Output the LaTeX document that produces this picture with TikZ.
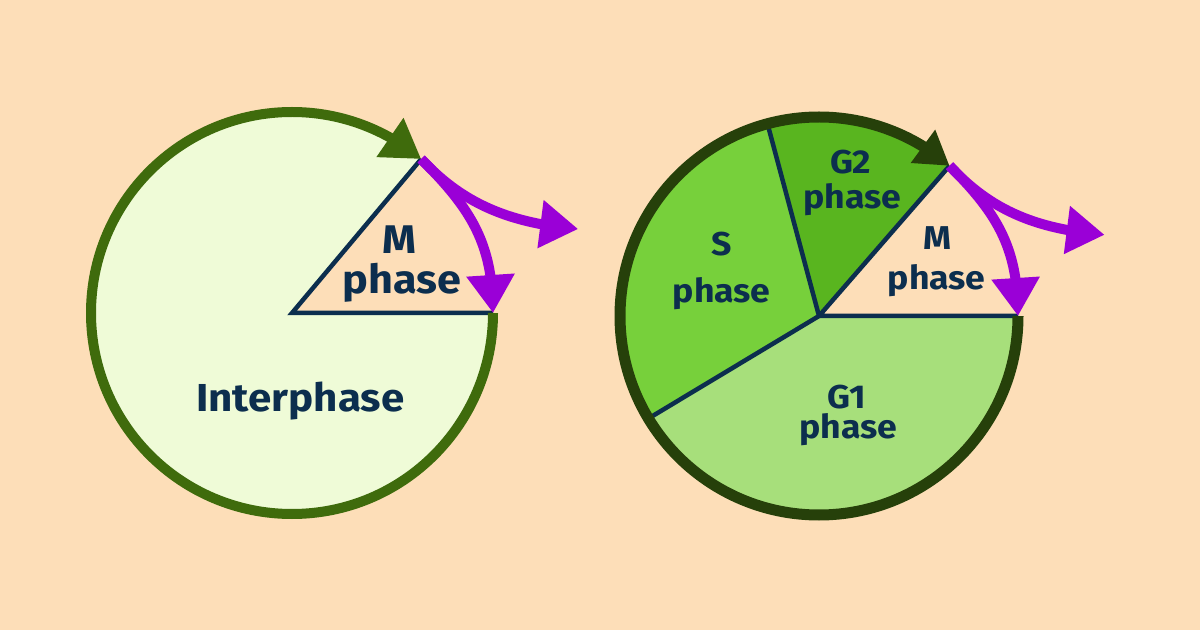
\documentclass[tikz,border=0pt]{standalone}
\usepackage{fontspec}
\setmainfont[FakeStretch=1.08]{Fira Sans}
\usetikzlibrary{arrows.meta,bending}
\definecolor{bg}{HTML}{FDDEB8}
\definecolor{lfill}{HTML}{EFFBD7}
\definecolor{lgreen}{HTML}{3F6B0C}
\definecolor{dgreen}{HTML}{26400A}
\definecolor{gone}{HTML}{A7DF7B}
\definecolor{sfill}{HTML}{77D03B}
\definecolor{gtwo}{HTML}{59B51F}
\definecolor{purp}{HTML}{9A00D7}
\definecolor{navy}{HTML}{0C2E4E}
\begin{document}
\begin{tikzpicture}[x=1pt,y=1pt,
  biglbl/.style={text=navy,font=\bfseries\fontsize{39}{44}\selectfont,inner sep=0pt,anchor=base},
  midlbl/.style={text=navy,font=\bfseries\fontsize{40}{44}\selectfont,inner sep=0pt,anchor=base},
  smalllbl/.style={text=navy,font=\bfseries\fontsize{33}{38}\selectfont,inner sep=0pt,anchor=base},
  divider/.style={draw=navy,line width=4.5pt,line join=miter},
  ring/.style={line width=10pt},
  purparrow/.style={draw=purp,line width=10pt,-{Triangle[length=38pt,width=46pt,flex]}},
]
\useasboundingbox (0,0) rectangle (1200,630);
\fill[bg] (0,0) rectangle (1200,630);

% ---------- left circle ----------
\coordinate (L) at (292,317);
\path (L) ++(50:201) coordinate (LA);
\path (L) ++(0:201) coordinate (LE);
\path (LA) ++(157,-70) coordinate (LT);
\fill[lfill] (L) -- (LE) arc[start angle=0,end angle=-310,radius=201] -- cycle;
\draw[divider] (LA) -- (L) -- (LE);
\draw[ring,draw=lgreen,-{Triangle[length=38pt,width=45pt,flex]}] (LE) arc[start angle=0,end angle=-310,radius=201];
\draw[purparrow] (LA) .. controls +(-45:70) and +(90:70) .. (LE);
\draw[purparrow] (LA) .. controls +(-47:55) and +(-75,6) .. (LT);

\node[midlbl] (lm1) at (399,376.7) {M};
\node[midlbl] (lm2) at (401.7,336) {phase};
\node[biglbl] (inter) at (300.3,218.3) {Interphase};

% ---------- right circle ----------
\coordinate (R) at (819,314);
\path (R) ++(0:199) coordinate (RE);
\path (R) ++(49:199) coordinate (RA);
\path (R) ++(105:199) coordinate (RB);
\path (R) ++(211:199) coordinate (RC);
\path (RA) ++(155,-69) coordinate (RT);
\fill[gone] (R) -- (RC) arc[start angle=211,end angle=360,radius=199] -- cycle;
\fill[sfill] (R) -- (RB) arc[start angle=105,end angle=211,radius=199] -- cycle;
\fill[gtwo] (R) -- (RA) arc[start angle=49,end angle=105,radius=199] -- cycle;
\draw[divider] (RA) -- (R) -- (RE);
\draw[divider] (RB) -- (R) -- (RC);
\draw[ring,line width=11pt,draw=dgreen,-{Triangle[length=33pt,width=39pt,flex]}] (RE) arc[start angle=0,end angle=-311,radius=199];
\draw[purparrow] (RA) .. controls +(-45:68) and +(90:68) .. (RE);
\draw[purparrow] (RA) .. controls +(-47:55) and +(-75,6) .. (RT);

\node[smalllbl] (g2a) at (850.7,456.7) {G2};
\node[smalllbl] (g2b) at (852.5,421.7) {phase};
\node[smalllbl] (sa) at (721.7,374) {S};
\node[smalllbl] (sb) at (721.7,327.3) {phase};
\node[smalllbl] (rma) at (937.5,380) {M};
\node[smalllbl] (rmb) at (936.7,340) {phase};
\node[smalllbl] (g1a) at (846.7,221.7) {G1};
\node[smalllbl] (g1b) at (848.3,191.7) {phase};
\end{tikzpicture}
\end{document}
